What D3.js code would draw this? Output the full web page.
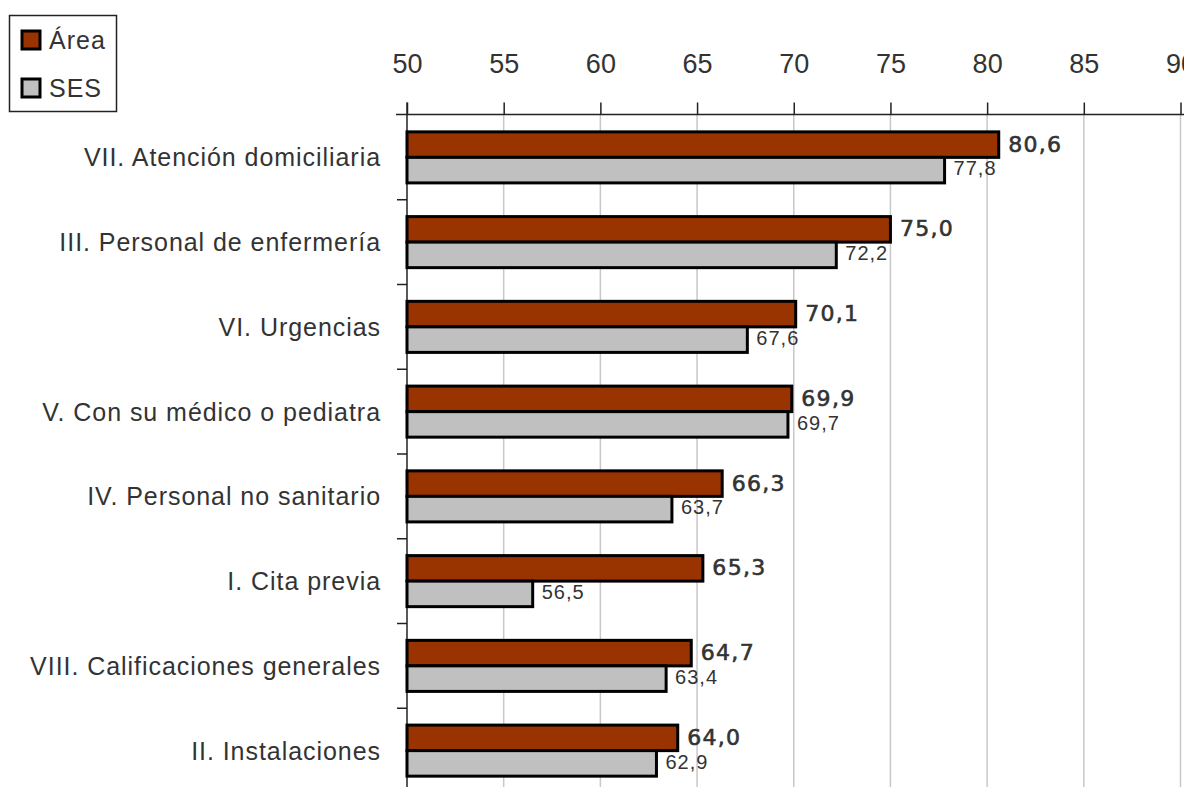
<!DOCTYPE html>
<html>
<head>
<meta charset="utf-8">
<script src="https://cdn.jsdelivr.net/npm/d3@7"></script>
<style>
  html, body { margin: 0; padding: 0; background: #fff; overflow: hidden; }
  svg { display: block; }
</style>
</head>
<body>
<svg id="chart" width="1184" height="787"></svg>
<script>
const categories = [
  "VII. Atención domiciliaria",
  "III. Personal de enfermería",
  "VI. Urgencias",
  "V. Con su médico o pediatra",
  "IV. Personal no sanitario",
  "I. Cita previa",
  "VIII. Calificaciones generales",
  "II. Instalaciones"
];
const seriesNames = ["Área", "SES"];
const areaValues = [80.6, 75.0, 70.1, 69.9, 66.3, 65.3, 64.7, 64.0];
const sesValues  = [77.8, 72.2, 67.6, 69.7, 63.7, 56.5, 63.4, 62.9];
const xTicks = [50, 55, 60, 65, 70, 75, 80, 85, 90];
const colors = ["#993300", "#c0c0c0"];

const svg = d3.select("#chart");
const fmt = v => v.toFixed(1).replace(".", ",");

const x = d3.scaleLinear().domain([50, 90]).range([407, 1180.5]);
const y = d3.scaleBand().domain(categories).range([115, 793]).padding(0);
const sub = d3.scaleBand().domain(seriesNames).range([0, y.bandwidth()]).paddingInner(0).paddingOuter(0.66);

const axisY = 114.5;

// gridlines
svg.append("g").selectAll("line")
  .data(xTicks.filter(t => t > 50))
  .join("line")
  .attr("x1", d => x(d)).attr("x2", d => x(d))
  .attr("y1", axisY).attr("y2", 787)
  .attr("stroke", "#c8c8c8").attr("stroke-width", 1.5);

// top axis
const gx = svg.append("g").attr("transform", `translate(0,${axisY})`)
  .call(d3.axisTop(x).tickValues(xTicks).tickSize(12).tickPadding(29.5).tickFormat(d3.format("d")));
gx.select(".domain").remove();
gx.selectAll(".tick line").attr("stroke", "#222").attr("stroke-width", 1.5);
gx.selectAll(".tick text").attr("fill", "#333")
  .style("font-family", "'Liberation Sans', Arial, sans-serif").style("font-size", "27px");
svg.append("line").attr("x1", 396).attr("x2", 1184).attr("y1", axisY).attr("y2", axisY)
  .attr("stroke", "#222").attr("stroke-width", 1.5);

// left axis labels
const gy = svg.append("g").attr("transform", `translate(${x(50)},0)`)
  .call(d3.axisLeft(y).tickSize(0).tickPadding(26));
gy.select(".domain").remove();
gy.selectAll(".tick text").attr("fill", "#333").attr("dy", "0.36em")
  .style("font-family", "'Liberation Sans', Arial, sans-serif").style("font-size", "25px")
  .style("letter-spacing", "0.95px");

// boundary ticks
svg.append("g").selectAll("line")
  .data(categories.slice(1))
  .join("line")
  .attr("x1", x(50) - 10).attr("x2", x(50))
  .attr("y1", d => y(d)).attr("y2", d => y(d))
  .attr("stroke", "#222").attr("stroke-width", 1.5);
svg.append("line").attr("x1", x(50)).attr("x2", x(50)).attr("y1", axisY - 12).attr("y2", 787)
  .attr("stroke", "#222").attr("stroke-width", 1.5);

// bars
const rows = categories.map((c, i) => ({ cat: c, vals: [areaValues[i], sesValues[i]] }));
const gBars = svg.append("g");
rows.forEach(r => {
  r.vals.forEach((v, j) => {
    const s = seriesNames[j];
    gBars.append("rect")
      .attr("x", x(50))
      .attr("y", y(r.cat) + sub(s))
      .attr("width", x(v) - x(50))
      .attr("height", sub.bandwidth())
      .attr("fill", colors[j])
      .attr("stroke", "#000")
      .attr("stroke-width", 3);
  });
  // labels
  gBars.append("text")
    .attr("x", x(r.vals[0]) + 9.5)
    .attr("y", y(r.cat) + sub("Área") + sub.bandwidth() / 2 - 1)
    .attr("dy", "0.36em")
    .attr("fill", "#333").attr("stroke", "#333").attr("stroke-width", 0.6)
    .style("font-family", "'DejaVu Sans', Verdana, sans-serif")
    .style("font-size", "22px").style("letter-spacing", "1.3px")
    .text(fmt(r.vals[0]));
  gBars.append("text")
    .attr("x", x(r.vals[1]) + 9)
    .attr("y", y(r.cat) + sub("SES") + sub.bandwidth() / 2 - 2)
    .attr("dy", "0.36em")
    .attr("fill", "#333")
    .style("font-family", "'Liberation Sans', Arial, sans-serif")
    .style("font-size", "20px").style("letter-spacing", "1px")
    .text(fmt(r.vals[1]));
});

// legend
const lg = svg.append("g");
lg.append("rect").attr("x", 9.5).attr("y", 15.5).attr("width", 107).attr("height", 96)
  .attr("fill", "#fff").attr("stroke", "#222").attr("stroke-width", 1.5);
seriesNames.forEach((s, i) => {
  const cy = 40 + i * 48;
  lg.append("rect").attr("x", 22).attr("y", cy - 9).attr("width", 18).attr("height", 18)
    .attr("fill", colors[i]).attr("stroke", "#000").attr("stroke-width", 3);
  lg.append("text").attr("x", 49).attr("y", cy).attr("dy", "0.36em")
    .attr("fill", "#333")
    .style("font-family", "'Liberation Sans', Arial, sans-serif").style("font-size", "25px")
    .style("letter-spacing", "1px")
    .text(s);
});
</script>
</body>
</html>
